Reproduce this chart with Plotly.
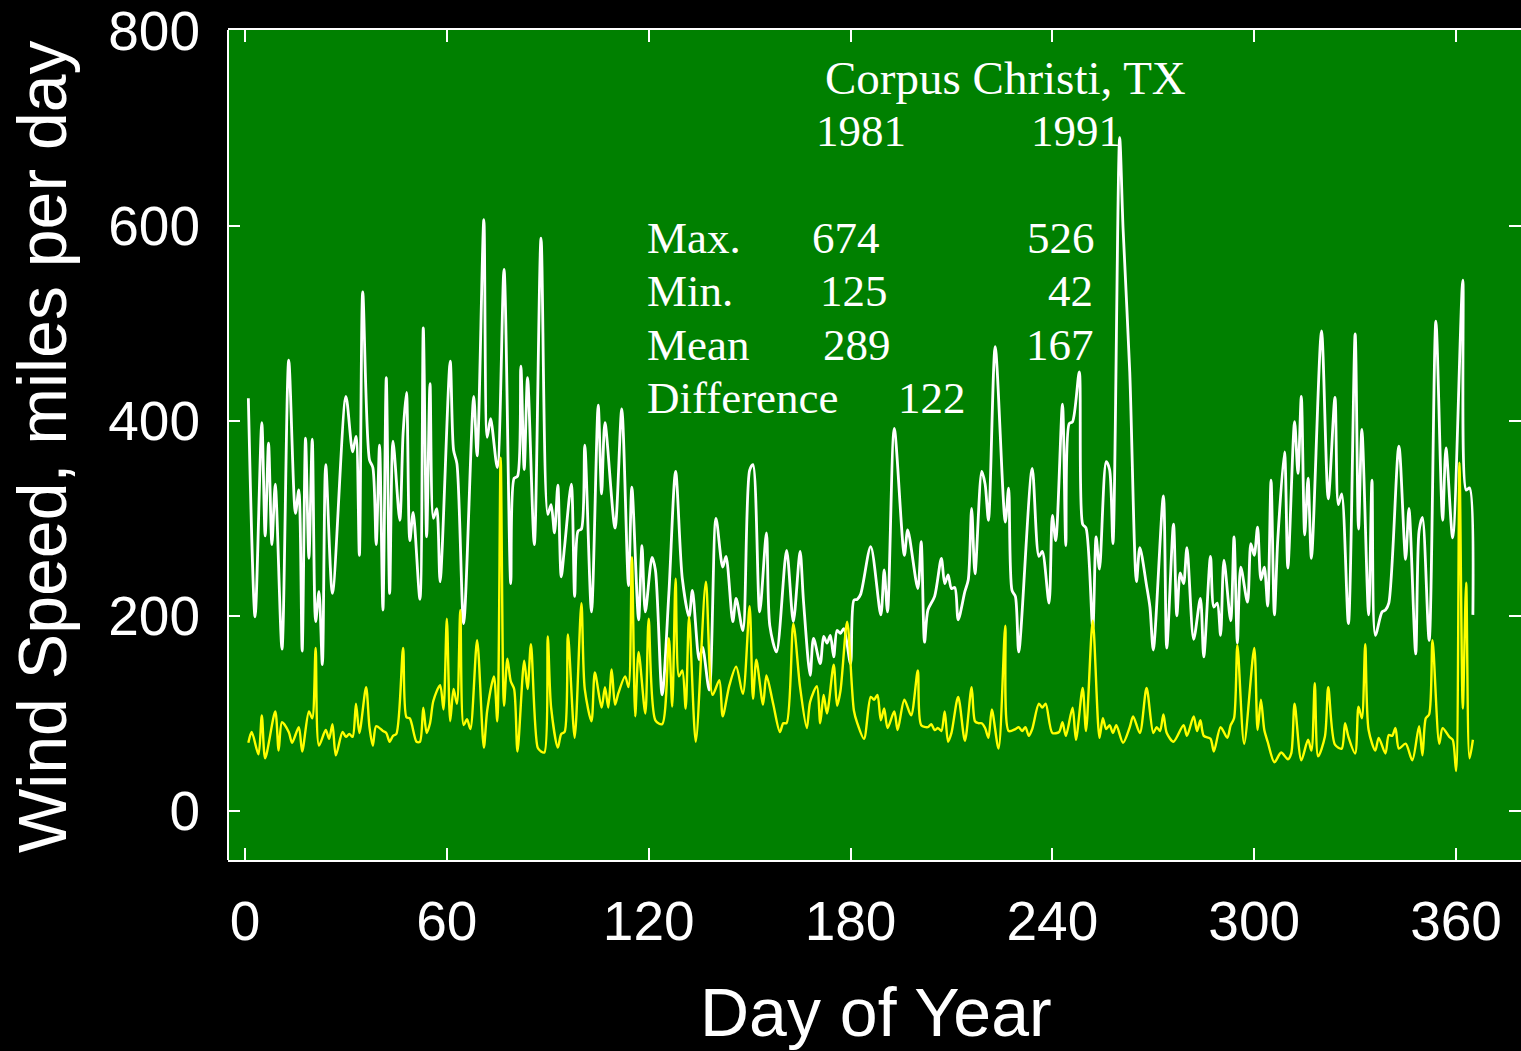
import plotly.graph_objects as go

# ---------------- data ----------------
white_days = [1,3,5,6,7,8,9,11,13,15,16,17,18,19,20,21,22,23,24,26,30,32,33,34,35,37,38,39,40,41,42,43,44,46,47,48,49,50,52,53,54,55,56,57,58,61,62,63,65,68,69,71,72,73,75,77,79,80,81,82,83,84,86,88,90,91,92,93,94,95,97,98,99,100,101,103,105,106,107,110,112,114,115,117,118,119,121,122,124,126,128,130,132,133,135,136,138,140,142,143,145,146,148,150,151,153,155,156,158,161,163,165,166,168,169,171,172,173,174,175,176,177,178,180,181,182,183,186,189,190,191,193,196,197,200,201,202,203,205,207,208,209,210,211,212,214,215,216,217,219,220,221,223,226,227,228,229,230,234,236,237,239,240,241,243,244,245,246,248,249,250,252,253,254,256,257,258,260,261,263,265,266,268,269,270,273,274,276,277,278,279,280,282,284,285,287,288,289,290,291,293,294,295,296,298,299,300,301,302,303,304,305,306,307,309,310,312,313,314,315,316,317,320,322,324,325,326,328,330,331,332,334,335,336,338,339,340,343,345,346,348,349,350,352,354,356,357,359,362,363,364,365]
white_vals = [423,199,398,282,377,273,335,166,462,305,329,164,382,259,381,194,225,150,355,223,425,368,384,262,532,360,352,273,375,206,444,223,379,298,387,429,277,306,217,495,281,438,300,310,235,461,370,356,192,425,364,606,383,402,352,555,233,341,343,456,350,444,273,587,304,314,285,334,240,271,335,220,287,289,375,204,416,325,398,290,412,231,332,196,272,204,260,247,119,223,348,238,199,226,155,168,124,300,250,261,194,218,185,349,355,204,285,190,163,267,194,266,216,139,177,151,179,172,180,158,185,182,187,151,216,217,222,271,201,247,204,392,262,288,228,276,173,206,220,259,233,242,228,229,196,225,237,310,243,348,335,298,476,296,331,226,220,163,351,261,266,213,303,277,417,272,397,399,450,294,290,187,281,248,358,350,274,690,598,450,235,270,231,209,165,323,167,294,200,244,233,270,176,218,158,261,209,213,180,257,195,281,172,250,214,274,262,291,237,250,210,339,201,278,368,249,399,346,425,283,341,259,492,320,424,314,325,192,489,289,391,201,339,180,204,206,213,374,258,310,161,287,301,175,502,298,372,280,544,329,331,201]

yellow_days = [1,2,4,5,6,9,10,11,13,14,16,17,19,20,21,22,24,25,26,27,29,30,31,32,33,34,36,37,38,39,41,42,43,44,45,47,48,49,51,52,53,54,55,56,58,59,60,61,62,63,64,65,66,67,69,71,72,74,75,76,77,78,79,80,81,83,84,85,87,88,89,90,91,93,94,95,96,98,100,101,103,104,106,107,108,109,110,111,113,114,115,116,117,119,120,122,124,126,127,128,129,130,131,132,134,137,139,141,142,144,146,148,150,151,152,154,155,157,159,160,161,163,165,167,168,170,171,172,173,175,176,177,179,181,182,184,186,187,188,189,190,191,193,194,196,198,200,201,203,204,205,206,207,208,209,210,212,214,216,217,218,219,220,221,222,224,226,227,229,230,231,232,233,234,236,237,238,240,242,243,244,246,247,249,250,252,254,255,256,257,258,259,261,263,264,266,268,270,271,272,273,274,276,279,280,282,283,284,285,287,288,290,292,293,294,295,297,300,301,302,303,304,306,308,310,311,312,314,316,317,318,319,321,322,324,326,327,328,330,331,332,333,334,336,337,339,340,341,342,343,345,347,349,350,351,352,353,355,356,358,359,360,361,362,363,364,365]
yellow_vals = [70,81,58,98,54,102,62,91,81,70,86,61,102,95,167,67,83,74,89,57,81,76,79,76,110,80,127,86,67,87,82,80,71,77,79,167,96,95,71,71,106,80,90,113,129,104,197,92,125,110,206,88,94,84,175,65,103,138,92,362,108,156,133,125,61,154,125,171,65,61,60,179,106,65,79,81,181,75,213,125,92,142,106,127,106,145,109,121,138,127,260,97,163,100,197,93,89,177,107,238,138,144,105,199,71,235,119,134,97,129,148,120,210,115,155,109,139,110,81,90,90,192,127,85,112,128,90,119,100,150,108,123,194,103,90,74,117,114,119,93,105,85,102,83,114,98,144,88,86,89,83,85,82,102,71,80,117,72,127,92,90,90,85,75,104,64,190,82,84,86,82,86,77,84,110,106,110,80,81,91,77,106,73,126,82,195,75,95,84,88,80,88,70,86,97,80,126,80,86,82,99,80,71,88,77,97,82,93,77,74,61,86,75,88,95,170,69,167,83,114,83,71,50,60,53,59,110,52,73,62,131,56,76,127,68,64,90,76,59,107,95,171,83,62,75,59,78,77,85,64,69,52,87,57,95,99,175,69,85,76,73,41,357,105,234,54,73]

x_ticks = [0, 60, 120, 180, 240, 300, 360]
y_ticks = [0, 200, 400, 600, 800]

title_text = "Corpus Christi, TX"
year_labels = ["1981", "1991"]
stat_names = ["Max.", "Min.", "Mean", "Difference"]
stats_1981 = ["674", "125", "289"]
stats_1991 = ["526", "42", "167"]
difference_val = "122"

# ---------------- layout geometry ----------------
W, H = 1521, 1051
L, R, T, B = 228, 0, 30, 191
PW, PH = W - L - R, H - T - B


def px(xp):
    return (xp - L) / PW


def py(yp):
    return (T + PH - yp) / PH


fig = go.Figure()
fig.add_trace(go.Scatter(x=white_days, y=white_vals, mode="lines",
                         line=dict(color="white", width=2.8, shape="spline", smoothing=0.8),
                         showlegend=False, hoverinfo="skip"))
fig.add_trace(go.Scatter(x=yellow_days, y=yellow_vals, mode="lines",
                         line=dict(color="#ffff00", width=2.4, shape="spline", smoothing=0.8),
                         showlegend=False, hoverinfo="skip"))

serif = "Liberation Serif"
sans = "Liberation Sans"
ann = []


def txt(s, xp, yp, size=45, anchor="left", family=serif, **kw):
    ann.append(dict(text=s, x=px(xp), y=py(yp), xref="paper", yref="paper",
                    xanchor=anchor, yanchor="middle", showarrow=False,
                    font=dict(family=family, size=size, color="white"), **kw))


txt(title_text, 823, 78, size=47)
txt(year_labels[0], 814, 131)
txt(year_labels[1], 1029, 131)
rows_y = [238, 291, 345]
for name, yy in zip(stat_names[:3], rows_y):
    txt(name, 645, yy)
txt(stats_1981[0], 882, 238, anchor="right")
txt(stats_1981[1], 890, 291, anchor="right")
txt(stats_1981[2], 893, 345, anchor="right")
txt(stats_1991[0], 1097, 238, anchor="right")
txt(stats_1991[1], 1095, 291, anchor="right")
txt(stats_1991[2], 1096, 345, anchor="right")
txt(stat_names[3], 645, 398)
txt(difference_val, 968, 398, anchor="right")

# axis titles
txt("Day of Year", 876, 1012, size=68, anchor="center", family=sans)
txt("Wind Speed, miles per day", 42, 447, size=68, anchor="center", family=sans, textangle=-90)

fig.update_layout(
    width=W, height=H,
    margin=dict(l=L, r=R, t=T, b=B, pad=0),
    paper_bgcolor="black", plot_bgcolor="#008000",
    annotations=ann,
    shapes=[dict(type="line", xref="paper", yref="paper", x0=0, x1=0, y0=0, y1=1,
                 line=dict(color="white", width=2))],
)
fig.update_xaxes(range=[-5.05, 379.3], tickvals=x_ticks, ticks="inside", ticklen=12,
                 tickwidth=2, tickcolor="white", showline=True, linecolor="white",
                 linewidth=2, mirror="ticks", showgrid=False, zeroline=False,
                 tickfont=dict(family=sans, size=55, color="white"), ticklabelstandoff=12,
                 ticklabeloverflow="allow")
fig.update_yaxes(range=[-50.2, 800.4], tickvals=y_ticks, ticks="inside", ticklen=12,
                 tickwidth=2, tickcolor="white", showline=False, mirror="ticks",
                 showgrid=False, zeroline=False,
                 tickfont=dict(family=sans, size=55, color="white"), ticklabelstandoff=27,
                 ticklabeloverflow="allow")

fig.write_html("out.html", config={"displayModeBar": False},
               post_script="document.body.style.margin='0';document.body.style.overflow='hidden';document.body.style.background='black';")
